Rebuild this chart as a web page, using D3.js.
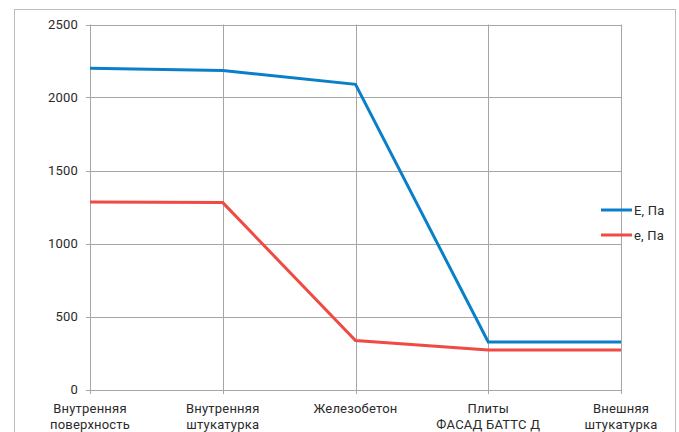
<!DOCTYPE html>
<html>
<head>
<meta charset="utf-8">
<script src="https://cdn.jsdelivr.net/npm/d3@7"></script>
<style>
body { margin: 0; background: #fff; }
text { font-family: Roboto, "Noto Sans", sans-serif; fill: #2a2a2a; letter-spacing: 0.2px; }
</style>
</head>
<body>
<script>
const width = 679;
const height = 432;

const categories = [
	["Внутренняя", "поверхность"],
	["Внутренняя", "штукатурка"],
	["Железобетон"],
	["Плиты", "ФАСАД БАТТС Д"],
	["Внешняя", "штукатурка"]
];
const seriesNames = ["E, Пa", "e, Пa"];
const valuesE = [2200, 2185, 2090, 325, 325];
const valuesSmallE = [1285, 1280, 335, 270, 270];
const yTicks = [0, 500, 1000, 1500, 2000, 2500];
const colors = ["#0a7fc9", "#ef4a43"];

const svg = d3.select("body")
	.append("svg")
	.attr("width", width)
	.attr("height", height);

// outer frame
svg.append("rect")
	.attr("x", 14.5)
	.attr("y", 9.5)
	.attr("width", 661)
	.attr("height", 440)
	.attr("fill", "none")
	.attr("stroke", "#bdbdbd");

const xScale = d3.scalePoint()
	.domain(d3.range(categories.length))
	.range([90, 621]);

const yScale = d3.scaleLinear()
	.domain([0, 2500])
	.range([389.5, 24.5]);

// horizontal grid
svg.append("g")
	.selectAll("line")
	.data(yTicks)
	.enter()
	.append("line")
	.attr("x1", 86)
	.attr("x2", 621)
	.attr("y1", d => Math.round(yScale(d)) + 0.5)
	.attr("y2", d => Math.round(yScale(d)) + 0.5)
	.attr("stroke", "#a6a6a6");

// vertical grid
svg.append("g")
	.selectAll("line")
	.data(d3.range(categories.length))
	.enter()
	.append("line")
	.attr("x1", d => Math.round(xScale(d)) + 0.5)
	.attr("x2", d => Math.round(xScale(d)) + 0.5)
	.attr("y1", yScale(2500))
	.attr("y2", 394)
	.attr("stroke", "#a6a6a6");

// y labels
svg.append("g")
	.selectAll("text")
	.data(yTicks)
	.enter()
	.append("text")
	.attr("x", 78)
	.attr("y", d => yScale(d) + 4.5)
	.attr("text-anchor", "end")
	.attr("font-size", 13)
	.text(d => d);

// x labels
const xl = svg.append("g")
	.selectAll("text")
	.data(categories)
	.enter()
	.append("text")
	.attr("x", (d, i) => xScale(i))
	.attr("y", 413)
	.attr("text-anchor", "middle")
	.attr("font-size", 13);
xl.selectAll("tspan")
	.data(d => d)
	.enter()
	.append("tspan")
	.attr("x", function () { return this.parentNode.getAttribute("x"); })
	.attr("dy", (d, i) => i === 0 ? 0 : 16)
	.text(d => d);

const line = d3.line()
	.x((d, i) => xScale(i))
	.y(d => yScale(d));

[valuesE, valuesSmallE].forEach((vals, k) => {
	svg.append("path")
		.datum(vals)
		.attr("d", line)
		.attr("fill", "none")
		.attr("stroke", colors[k])
		.attr("stroke-width", 3);
});

// legend
const legend = svg.append("g")
	.selectAll("g")
	.data(seriesNames)
	.enter()
	.append("g")
	.attr("transform", (d, i) => `translate(601, ${210 + i * 25})`);
legend.append("line")
	.attr("x1", 0)
	.attr("x2", 31)
	.attr("stroke", (d, i) => colors[i])
	.attr("stroke-width", 3);
legend.append("text")
	.attr("x", 33)
	.attr("y", 4.5)
	.attr("font-size", 13)
	.text(d => d);
</script>
</body>
</html>
